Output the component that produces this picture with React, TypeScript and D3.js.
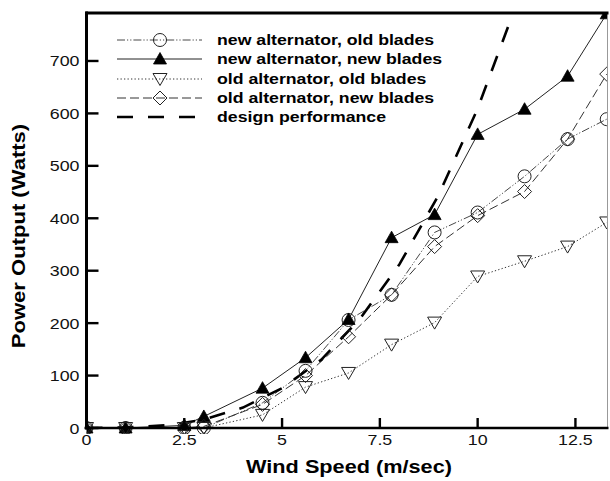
import React from "react";
import * as d3 from "d3";

const windSpeed = [0, 1, 2.5, 3, 4.5, 5.6, 6.7, 7.8, 8.9, 10, 11.2, 12.3, 13.3];
const newAltOldBlades = [0, 0, 0, 0, 48, 109, 206, 254, 373, 411, 480, 551, 589];
const newAltNewBlades = [0, 0, 5, 22, 76, 134, 207, 363, 407, 560, 608, 671, 790];
const oldAltOldBlades = [0, 0, 0, 0, 25, 78, 105, 159, 201, 289, 318, 346, 392];
const oldAltNewBlades = [0, 0, 0, 3, 45, 100, 174, 254, 346, 405, 451, 551, 675];
const designSpeed = [0, 1, 2, 2.5, 3, 4, 5, 6, 7, 8, 9, 10, 11];
const designPower = [0, 1, 5, 10, 16, 39, 76, 130, 209, 312, 444, 609, 810];

const xTicks = [0, 2.5, 5, 7.5, 10, 12.5];
const xTickLabels = ["0", "2.5", "5", "7.5", "10", "12.5"];
const yTicks = [0, 100, 200, 300, 400, 500, 600, 700];
const yTickLabels = ["0", "100", "200", "300", "400", "500", "600", "700"];
const legendLabels = [
  "new alternator, old blades",
  "new alternator, new blades",
  "old alternator, old blades",
  "old alternator, new blades",
  "design performance",
];

const W = 610, H = 481;
const L = 86.5, R = 607.5, T = 13, B = 428;

type Marker = "circle" | "tri" | "dtri" | "diamond" | "none";

function MarkerShape({ kind, x, y }: { kind: Marker; x: number; y: number }) {
  if (kind === "circle") return <circle cx={x} cy={y} r={6.5} fill="none" stroke="#222" strokeWidth={1} />;
  if (kind === "tri")
    return <path d={`M${x},${y - 6.5}L${x + 6.5},${y + 5}L${x - 6.5},${y + 5}Z`} fill="#000" stroke="#000" strokeWidth={0.8} />;
  if (kind === "dtri")
    return <path d={`M${x - 7},${y - 5.5}L${x + 7},${y - 5.5}L${x},${y + 6.5}Z`} fill="none" stroke="#222" strokeWidth={1} />;
  if (kind === "diamond")
    return <path d={`M${x},${y - 7}L${x + 7},${y}L${x},${y + 7}L${x - 7},${y}Z`} fill="none" stroke="#222" strokeWidth={1} />;
  return null;
}

export default function App() {
  const x = d3.scaleLinear().domain([0, 13.32]).range([L, R]);
  const y = d3.scaleLinear().domain([0, 791.5]).range([B, T]);
  const line = d3
    .line<[number, number]>()
    .x((d) => x(d[0]))
    .y((d) => y(d[1]));

  const series = [
    { vals: newAltOldBlades, xs: windSpeed, marker: "circle" as Marker, dash: "8,2,1.2,2,1.2,2", width: 0.9, color: "#333" },
    { vals: newAltNewBlades, xs: windSpeed, marker: "tri" as Marker, dash: "none", width: 1, color: "#222" },
    { vals: oldAltOldBlades, xs: windSpeed, marker: "dtri" as Marker, dash: "1.3,2.2", width: 1, color: "#333" },
    { vals: oldAltNewBlades, xs: windSpeed, marker: "diamond" as Marker, dash: "9,4", width: 1, color: "#333" },
    { vals: designPower, xs: designSpeed, marker: "none" as Marker, dash: "16,15", width: 2.6, color: "#000" },
  ];

  const font = "'Liberation Sans', Arial, Helvetica, sans-serif";
  const legendY = [40, 59, 79, 98, 117];

  return (
    <svg width={W} height={H} style={{ position: "absolute", left: 0, top: 0, background: "#fff" }} fontFamily={font}>
      <defs>
        <clipPath id="plotclip">
          <rect x={L} y={T} width={R - L} height={B - T + 6} />
        </clipPath>
      </defs>
      <rect x={0} y={0} width={W} height={H} fill="#fff" />

      {/* series */}
      <g clipPath="url(#plotclip)">
        {series.map((s, i) => (
          <path
            key={i}
            d={line(s.xs.map((v, j) => [v, s.vals[j]] as [number, number])) || ""}
            fill="none"
            stroke={s.color}
            strokeWidth={s.width}
            strokeDasharray={s.dash}
          />
        ))}
        {series.map((s, i) =>
          s.xs.map((v, j) => <MarkerShape key={`${i}-${j}`} kind={s.marker} x={x(v)} y={y(s.vals[j])} />)
        )}
      </g>

      {/* frame */}
      <line x1={R} x2={R} y1={T} y2={B} stroke="#999" strokeWidth={1} />
      <line x1={L - 1} x2={R + 1} y1={T} y2={T} stroke="#000" strokeWidth={3} />
      <line x1={L} x2={L} y1={T - 1.5} y2={B + 1.5} stroke="#000" strokeWidth={3} />
      <line x1={L - 2} x2={R + 1} y1={B} y2={B} stroke="#000" strokeWidth={2.6} />

      {/* y ticks */}
      {yTicks.map((t, i) => (
        <g key={`yt${i}`}>
          <line x1={L} x2={L + 12} y1={y(t)} y2={y(t)} stroke="#000" strokeWidth={2.4} />
          <text
            transform={`translate(${L - 7},${y(t) + 5.5}) scale(1.15,1)`}
            textAnchor="end"
            fontSize={15.5}
            fill="#111"
          >
            {yTickLabels[i]}
          </text>
        </g>
      ))}

      {/* x ticks */}
      {xTicks.map((t, i) => (
        <g key={`xt${i}`}>
          <line x1={x(t)} x2={x(t)} y1={B} y2={B - 10} stroke="#000" strokeWidth={2.4} />
          <text
            transform={`translate(${x(t)},${B + 17}) scale(1.15,1)`}
            textAnchor="middle"
            fontSize={15.5}
            fill="#111"
          >
            {xTickLabels[i]}
          </text>
        </g>
      ))}

      {/* axis titles */}
      <text transform={`translate(349,473) scale(1.24,1)`} textAnchor="middle" fontSize={17.5} fontWeight="bold" fill="#000">
        Wind Speed (m/sec)
      </text>
      <text transform={`translate(25,236) rotate(-90) scale(1.26,1)`} textAnchor="middle" fontSize={17.5} fontWeight="bold" fill="#000">
        Power Output (Watts)
      </text>

      {/* legend */}
      {series.map((s, i) => (
        <g key={`lg${i}`}>
          <line x1={117} x2={202} y1={legendY[i]} y2={legendY[i]} stroke={s.color} strokeWidth={s.width} strokeDasharray={s.dash} />
          <MarkerShape kind={s.marker} x={160} y={legendY[i]} />
          <text transform={`translate(217,${legendY[i] + 5}) scale(1.18,1)`} fontSize={15} fontWeight="bold" fill="#000">
            {legendLabels[i]}
          </text>
        </g>
      ))}
    </svg>
  );
}
